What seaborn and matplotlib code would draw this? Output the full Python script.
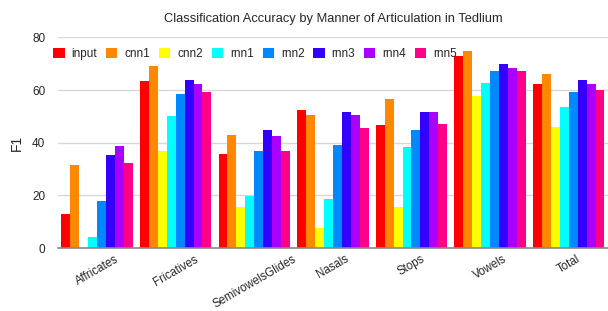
import matplotlib
matplotlib.use('Agg')
import matplotlib.pyplot as plt
import seaborn as sns
import pandas as pd

# Data
categories = ['Affricates', 'Fricatives', 'SemivowelsGlides', 'Nasals', 'Stops', 'Vowels', 'Total']
models = ['input', 'cnn1', 'cnn2', 'rnn1', 'rnn2', 'rnn3', 'rnn4', 'rnn5']

input_f1 = [13.0, 63.4, 35.6, 52.4, 46.6, 73.0, 62.2]
cnn1_f1 = [31.6, 69.1, 42.8, 50.4, 56.6, 74.7, 66.2]
cnn2_f1 = [0.0, 36.8, 15.6, 7.5, 15.6, 57.6, 45.8]
rnn1_f1 = [4.2, 50.1, 19.9, 18.6, 38.2, 62.8, 53.7]
rnn2_f1 = [17.8, 58.6, 36.8, 39.2, 44.7, 67.3, 59.4]
rnn3_f1 = [35.3, 63.7, 44.7, 51.8, 51.5, 69.9, 63.7]
rnn4_f1 = [38.9, 62.4, 42.4, 50.4, 51.8, 68.5, 62.4]
rnn5_f1 = [32.3, 59.1, 36.8, 45.7, 47.1, 67.3, 60.0]

colors = ['#FF0000', '#FF8800', '#FFFF00', '#00FFFF', '#0088FF', '#3300FF', '#AA00FF', '#FF0088']

series = [input_f1, cnn1_f1, cnn2_f1, rnn1_f1, rnn2_f1, rnn3_f1, rnn4_f1, rnn5_f1]
rows = []
for m, vals in zip(models, series):
    for c, v in zip(categories, vals):
        rows.append({'category': c, 'model': m, 'F1': v})
df = pd.DataFrame(rows)

sns.set_style('white')
plt.rcParams['font.family'] = ['Liberation Sans', 'DejaVu Sans']

fig, ax = plt.subplots(figsize=(6.08, 3.11), dpi=100)
fig.subplots_adjust(left=0.095, right=1.0, top=0.880, bottom=0.202)

sns.barplot(data=df, x='category', y='F1', hue='model', hue_order=models,
            palette=colors, width=0.91, linewidth=0, saturation=1, ax=ax)

ax.set_ylim(0, 80)
ax.set_yticks([0, 20, 40, 60, 80])
ax.set_xlim(-0.5, 6.5)
ax.yaxis.grid(True, color='#d8d8d8', linewidth=1)
ax.set_axisbelow(True)
for s in ['left', 'top', 'right']:
    ax.spines[s].set_visible(False)
ax.spines['bottom'].set_color('#888888')
ax.spines['bottom'].set_linewidth(1.2)
ax.tick_params(axis='both', length=0, labelsize=8.5)
ax.tick_params(axis='y', pad=9)
ax.tick_params(axis='x', pad=3.5, labelsize=8.3)
plt.setp(ax.get_xticklabels(), rotation=30, ha='center')
ax.set_xlabel('')
ax.set_ylabel('F1', fontsize=10, labelpad=6)
ax.set_title('Classification Accuracy by Manner of Articulation in Tedlium', fontsize=9.3, pad=11)

ax.legend(loc='upper left', bbox_to_anchor=(-0.021, 0.985), ncol=8, frameon=False,
          fontsize=8.5, handlelength=0.95, handleheight=0.95, handletextpad=0.6,
          columnspacing=0.75, borderaxespad=0.2)

fig.savefig('out.png', dpi=100)
